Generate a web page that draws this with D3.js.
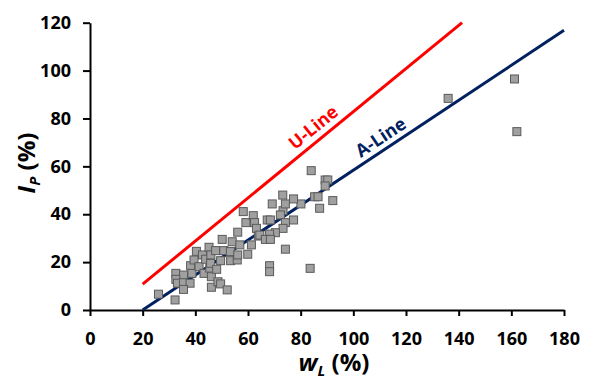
<!DOCTYPE html>
<html>
<head>
<meta charset="utf-8">
<script src="https://cdn.jsdelivr.net/npm/d3@7"></script>
<style>
  body { margin: 0; background: #fff; }
  svg text { font-family: "Open Sans", sans-serif; font-weight: 700; }
</style>
</head>
<body>
<div id="chart"></div>
<script>
// liquid limit wL (%) and plasticity index Ip (%) of the samples
const wL = [26, 32.3, 32.6, 35.5, 32.6, 33.2, 35.5, 38, 35.5, 38.2, 38.7, 39.5, 40.4, 41.4, 42.7, 43.3,
  43.9, 45.2, 45.5, 45.8, 45.9, 46.1, 46.1, 47.7, 48.1, 48.6, 49.6, 49.6, 50.2, 50.8, 52.1, 53.3,
  53.4, 54, 55.9, 56.1, 56.1, 56.9, 58.2, 59.2, 59.9, 61.3, 62, 62.5, 63.2, 63.9,
  84, 89.3, 90.3, 89.3, 92.2, 87.2, 85.3, 86.6, 80.1, 77.3, 73.2, 69.2, 73.3, 72.3, 67.3, 68.5,
  74.2, 77.3, 73.3, 70.4, 68.2, 64.5, 66.6, 68.5, 74.2, 68.2, 68.2, 83.6, 74.2,
  136, 161.2, 162.1];
const Ip = [6.6, 4.2, 15.3, 14.6, 12.8, 11.2, 11.4, 11.2, 8.6, 18.5, 15.3, 20.9, 24.5, 18.1, 23, 15.3,
  21.2, 26.2, 17.5, 19.5, 23, 13.9, 9.5, 24.8, 17, 11.8, 10.9, 20.6, 29.5, 24.8, 8.4, 24.4,
  20.6, 28.5, 20.9, 23, 32.5, 27.2, 41.1, 36.5, 23.3, 27.2, 39.4, 36.5, 34.1, 30.9,
  58.2, 54.3, 54.3, 51.8, 45.7, 42.5, 47.3, 47.3, 44.3, 46.4, 48, 44.3, 41.5, 39.7, 37.6, 37.6,
  36.5, 37.6, 34.1, 32.3, 31.7, 31.3, 29.5, 29.5, 25.4, 18.5, 16, 17.4, 44.3,
  88.4, 96.5, 74.5];

// Casagrande lines, end points [wL, Ip]
const uLine = [[20, 10.8], [141.3, 120]];
const aLine = [[20, 0], [180, 116.8]];

const xTicks = [0, 20, 40, 60, 80, 100, 120, 140, 160, 180];
const yTicks = [0, 20, 40, 60, 80, 100, 120];

const width = 590, height = 381;
const margin = { top: 22.7, right: 26, bottom: 71, left: 90 };

const svg = d3.select('#chart').append('svg')
  .attr('width', width)
  .attr('height', height);

const x = d3.scaleLinear().domain([0, 180]).range([margin.left, width - margin.right]);
const y = d3.scaleLinear().domain([0, 120]).range([height - margin.bottom, margin.top]);

// axes
const xAxis = svg.append('g')
  .attr('transform', `translate(0, ${y(0)})`)
  .call(d3.axisBottom(x).tickValues(xTicks).tickSize(6).tickSizeOuter(0).tickPadding(10));
const yAxis = svg.append('g')
  .attr('transform', `translate(${x(0)}, 0)`)
  .call(d3.axisLeft(y).tickValues(yTicks).tickSize(7).tickSizeOuter(0).tickPadding(12));

[xAxis, yAxis].forEach(ax => {
  ax.select('.domain').attr('stroke', '#000').attr('stroke-width', 2);
  ax.selectAll('.tick line').attr('stroke', '#000').attr('stroke-width', 2);
  ax.selectAll('.tick text').attr('fill', '#000').style('font-size', '18px');
});
xAxis.selectAll('.tick text').attr('y', 35).attr('dy', 0);

// lines
const line = d3.line().x(d => x(d[0])).y(d => y(d[1]));
svg.append('path').datum(uLine)
  .attr('d', line).attr('fill', 'none')
  .attr('stroke', '#ff0000').attr('stroke-width', 3);
svg.append('path').datum(aLine)
  .attr('d', line).attr('fill', 'none')
  .attr('stroke', '#002060').attr('stroke-width', 3);

// points
const pts = wL.map((w, i) => [w, Ip[i]]);
const s = 8;
svg.append('g').selectAll('rect')
  .data(pts)
  .enter().append('rect')
  .attr('x', d => x(d[0]) - s / 2)
  .attr('y', d => y(d[1]) - s / 2)
  .attr('width', s)
  .attr('height', s)
  .attr('fill', '#a0a0a0')
  .attr('stroke', '#5a5a5a')
  .attr('stroke-width', 1);

// line labels
function lineLabel(pts2, at, text, color, off) {
  const [p0, p1] = pts2;
  const slope = (p1[1] - p0[1]) / (p1[0] - p0[0]);
  const yv = p0[1] + slope * (at - p0[0]);
  const ang = Math.atan2(y(p1[1]) - y(p0[1]), x(p1[0]) - x(p0[0])) * 180 / Math.PI;
  svg.append('text')
    .attr('transform', `translate(${x(at)}, ${y(yv)}) rotate(${ang})`)
    .attr('y', off)
    .attr('text-anchor', 'middle')
    .attr('fill', color)
    .style('font-size', '18px')
    .text(text);
}
lineLabel(uLine, 88, 'U-Line', '#ff0000', -7);
lineLabel(aLine, 113, 'A-Line', '#002060', -6);

// axis titles
const xt = svg.append('text')
  .attr('x', 334).attr('y', 371)
  .attr('text-anchor', 'middle')
  .style('font-size', '24px');
xt.append('tspan').style('font-style', 'italic').text('w');
xt.append('tspan').style('font-style', 'italic').style('font-size', '15px').attr('dy', 5).text('L');
xt.append('tspan').attr('dy', -5).text('\u00a0(%)');

const yt = svg.append('text')
  .attr('transform', 'translate(35, 163) rotate(-90)')
  .attr('text-anchor', 'middle')
  .style('font-size', '24px');
yt.append('tspan').style('font-style', 'italic').text('I');
yt.append('tspan').style('font-style', 'italic').style('font-size', '15px').attr('dy', 5).text('P');
yt.append('tspan').attr('dy', -5).text('\u00a0(%)');
</script>
</body>
</html>
